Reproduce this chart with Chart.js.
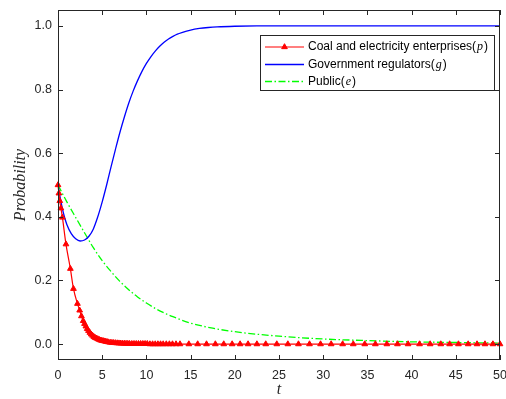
<!DOCTYPE html>
<html>
<head>
<meta charset="utf-8">
<script src="https://cdn.jsdelivr.net/npm/chart.js@4.4.0/dist/chart.umd.min.js"></script>
<style>
  html, body { margin: 0; padding: 0; background: #fff; }
</style>
</head>
<body>
<canvas id="chart" width="506" height="399"></canvas>
<script>
// Coal and electricity enterprises (p) - solver steps, one marker per step
const tCoal = [0, 0.1, 0.2, 0.33, 0.5, 0.9, 1.4, 1.75, 2.2, 2.45, 2.65, 2.85, 3.0, 3.15, 3.3, 3.45,
    3.6, 3.75, 3.9, 4.05, 4.2, 4.35, 4.5, 4.65, 4.8, 4.95, 5.1, 5.25, 5.4, 5.55, 5.7, 5.9, 6.1, 6.3,
    6.5, 6.7, 6.9, 7.1, 7.3, 7.5, 7.7, 7.9, 8.1, 8.35, 8.6, 8.85, 9.1, 9.35, 9.6, 9.85, 10.1, 10.4,
    10.7, 11.0, 11.3, 11.6, 11.9, 12.25, 12.6, 12.95, 13.35, 13.8, 14.8, 15.8, 16.8, 17.8, 18.75,
    19.7, 20.6, 21.5, 22.5, 23.5, 24.75, 26.0, 27.2, 28.45, 29.7, 30.9, 32.2, 33.4, 34.7, 35.9,
    37.2, 38.4, 39.6, 40.9, 42.1, 43.3, 44.3, 45.3, 46.4, 47.4, 48.3, 49.2, 50];
const pCoal = [0.5, 0.474, 0.45, 0.427, 0.398, 0.314, 0.237, 0.174, 0.127, 0.106, 0.088, 0.073, 0.064, 0.056, 0.048, 0.042,
    0.036, 0.031, 0.027, 0.023, 0.020, 0.018, 0.016, 0.014, 0.012, 0.011, 0.010, 0.009, 0.008, 0.007, 0.006, 0.005, 0.0045, 0.004,
    0.0035, 0.003, 0.0027, 0.0024, 0.002, 0.0018, 0.0016, 0.0014, 0.0012, 0.001, 0.001, 0.001, 0.001, 0.001, 0.001, 0.001, 0.001, 0,
    0, 0, 0, 0, 0, 0, 0, 0, 0, 0, 0, 0, 0, 0, 0,
    0, 0, 0, 0, 0, 0, 0, 0, 0, 0, 0, 0, 0, 0, 0,
    0, 0, 0, 0, 0, 0, 0, 0, 0, 0, 0, 0, 0];

// Government regulators (g)
const tGov = [0, 0.25, 0.5, 0.75, 1, 1.5, 2, 2.5, 3, 3.5, 4, 4.5, 5, 5.5, 6, 6.5, 7, 7.5, 8, 8.5, 9, 9.5,
    10, 10.5, 11, 11.5, 12, 12.5, 13, 13.5, 14, 15, 16, 17, 18, 20, 22.5, 25, 30, 35, 40, 45, 50];
const gGov = [0.5, 0.46, 0.425, 0.398, 0.376, 0.347, 0.331, 0.324, 0.327, 0.339, 0.362, 0.40, 0.447, 0.5, 0.557, 0.612, 0.665, 0.713, 0.757, 0.795, 0.828, 0.857,
    0.882, 0.903, 0.921, 0.936, 0.949, 0.959, 0.967, 0.974, 0.979, 0.987, 0.992, 0.995, 0.997, 0.999, 1.0, 1.0, 1.0, 1.0, 1.0, 1.0, 1.0];

// Public (e)
const tPub = [0, 1, 2, 3, 4, 5, 6, 7, 8, 9, 10, 11, 12, 13, 15, 17.5, 20, 22.5, 25, 27.5, 30, 35, 40, 45, 50];
const ePub = [0.5, 0.447, 0.398, 0.35, 0.303, 0.262, 0.228, 0.197, 0.171, 0.148, 0.129, 0.112, 0.098, 0.086, 0.066, 0.05, 0.039, 0.031, 0.025, 0.02, 0.016, 0.011, 0.007, 0.005, 0.003];

const legendNames = ['Coal and electricity enterprises', 'Government regulators', 'Public'];
const legendVars = ['p', 'g', 'e'];
const yTicks = [0, 0.2, 0.4, 0.6, 0.8, 1.0];

const axisColor = '#262626';

function toPoints(xs, ys) {
    return xs.map((x, i) => ({ x: x, y: ys[i] }));
}

// frame with inward ticks on all four sides, plus the legend box
const framePlugin = {
    id: 'frame',
    afterDatasetsDraw(chart) {
        const ctx = chart.ctx;
        const a = chart.chartArea;
        const xs = chart.scales.x, ys = chart.scales.y;
        const tl = 5;
        ctx.save();
        ctx.strokeStyle = axisColor;
        ctx.lineWidth = 1;
        ctx.beginPath();
        xs.ticks.forEach(t => {
            const px = Math.round(xs.getPixelForValue(t.value)) + 0.5;
            ctx.moveTo(px, a.bottom); ctx.lineTo(px, a.bottom - tl);
            ctx.moveTo(px, a.top); ctx.lineTo(px, a.top + tl);
        });
        ys.ticks.forEach(t => {
            const py = Math.round(ys.getPixelForValue(t.value)) + 0.5;
            ctx.moveTo(a.left, py); ctx.lineTo(a.left + tl, py);
            ctx.moveTo(a.right, py); ctx.lineTo(a.right - tl, py);
        });
        ctx.stroke();
        ctx.strokeRect(a.left + 0.5, a.top + 0.5, a.right - a.left - 1, a.bottom - a.top - 1);

        // legend
        const bx = 260.5, by = 35.5, bw = 234, bh = 55;
        ctx.fillStyle = '#fff';
        ctx.fillRect(bx, by, bw, bh);
        ctx.strokeStyle = axisColor;
        ctx.strokeRect(bx, by, bw, bh);
        const rows = [47, 64.5, 81.5];
        chart.data.datasets.forEach((ds, i) => {
            const y = rows[i];
            ctx.save();
            ctx.strokeStyle = ds.borderColor;
            ctx.lineWidth = ds.borderWidth;
            ctx.setLineDash(ds.borderDash || []);
            ctx.beginPath();
            ctx.moveTo(265, y); ctx.lineTo(304, y);
            ctx.stroke();
            ctx.restore();
            if (ds.pointRadius > 0) {
                ctx.save();
                ctx.fillStyle = ds.backgroundColor;
                ctx.strokeStyle = ds.borderColor;
                Chart.helpers.drawPoint(ctx, { pointStyle: 'triangle', radius: ds.pointRadius, borderWidth: 1 }, 284.5, y);
                ctx.restore();
            }
            ctx.fillStyle = '#000';
            ctx.textBaseline = 'middle';
            let x = 308;
            ctx.font = '12px "Liberation Sans", Arial, sans-serif';
            const head = legendNames[i] + '(';
            ctx.fillText(head, x, y);
            x += ctx.measureText(head).width + 1;
            ctx.font = 'italic 12px "Liberation Serif", serif';
            ctx.fillText(legendVars[i], x, y);
            x += ctx.measureText(legendVars[i]).width + 1;
            ctx.font = '12px "Liberation Sans", Arial, sans-serif';
            ctx.fillText(')', x, y);
        });
        ctx.restore();
    }
};

const chart = new Chart(document.getElementById('chart'), {
    type: 'line',
    data: {
        datasets: [
            {
                label: legendNames[0] + '(' + legendVars[0] + ')',
                data: toPoints(tCoal, pCoal),
                borderColor: '#ff0000',
                backgroundColor: '#ff0000',
                borderWidth: 1.2,
                pointStyle: 'triangle',
                pointRadius: 3.3,
                pointBorderWidth: 1,
                cubicInterpolationMode: 'monotone',
                clip: false
            },
            {
                label: legendNames[1] + '(' + legendVars[1] + ')',
                data: toPoints(tGov, gGov),
                borderColor: '#0000ff',
                backgroundColor: '#0000ff',
                borderWidth: 1.3,
                pointRadius: 0,
                cubicInterpolationMode: 'monotone'
            },
            {
                label: legendNames[2] + '(' + legendVars[2] + ')',
                data: toPoints(tPub, ePub),
                borderColor: '#00ff00',
                backgroundColor: '#00ff00',
                borderWidth: 1.3,
                borderDash: [7, 2.5, 1.5, 2.5],
                pointRadius: 0,
                cubicInterpolationMode: 'monotone'
            }
        ]
    },
    options: {
        responsive: false,
        animation: false,
        layout: { padding: { left: 0, right: 6, top: 10, bottom: 0 } },
        plugins: {
            legend: { display: false },
            tooltip: { enabled: false }
        },
        scales: {
            x: {
                type: 'linear',
                min: 0,
                max: 50,
                grid: { display: false, drawTicks: false },
                border: { display: false },
                ticks: {
                    stepSize: 5,
                    padding: 8,
                    color: axisColor,
                    maxRotation: 0,
                    font: { family: '"Liberation Sans", Arial, sans-serif', size: 12.5 }
                },
                title: {
                    display: true,
                    text: 't',
                    color: axisColor,
                    padding: { top: 0, bottom: 0 },
                    font: { family: '"Liberation Serif", serif', style: 'italic', size: 16 }
                },
                afterFit(scale) {
                    scale.height = 39;
                    scale.paddingLeft = 0;
                    scale.paddingRight = 0;
                }
            },
            y: {
                type: 'linear',
                min: -0.05,
                max: 1.05,
                grid: { display: false, drawTicks: false },
                border: { display: false },
                afterBuildTicks(scale) {
                    scale.ticks = yTicks.map(v => ({ value: v }));
                },
                ticks: {
                    padding: 6,
                    color: axisColor,
                    callback: v => Number(v).toFixed(1),
                    font: { family: '"Liberation Sans", Arial, sans-serif', size: 12.5 }
                },
                title: {
                    display: true,
                    text: 'Probability',
                    color: axisColor,
                    padding: { top: 11, bottom: 0 },
                    font: { family: '"Liberation Serif", serif', style: 'italic', size: 16 }
                },
                afterFit(scale) {
                    scale.width = 58;
                    scale.paddingTop = 0;
                    scale.paddingBottom = 0;
                }
            }
        }
    },
    plugins: [framePlugin]
});
</script>
</body>
</html>
